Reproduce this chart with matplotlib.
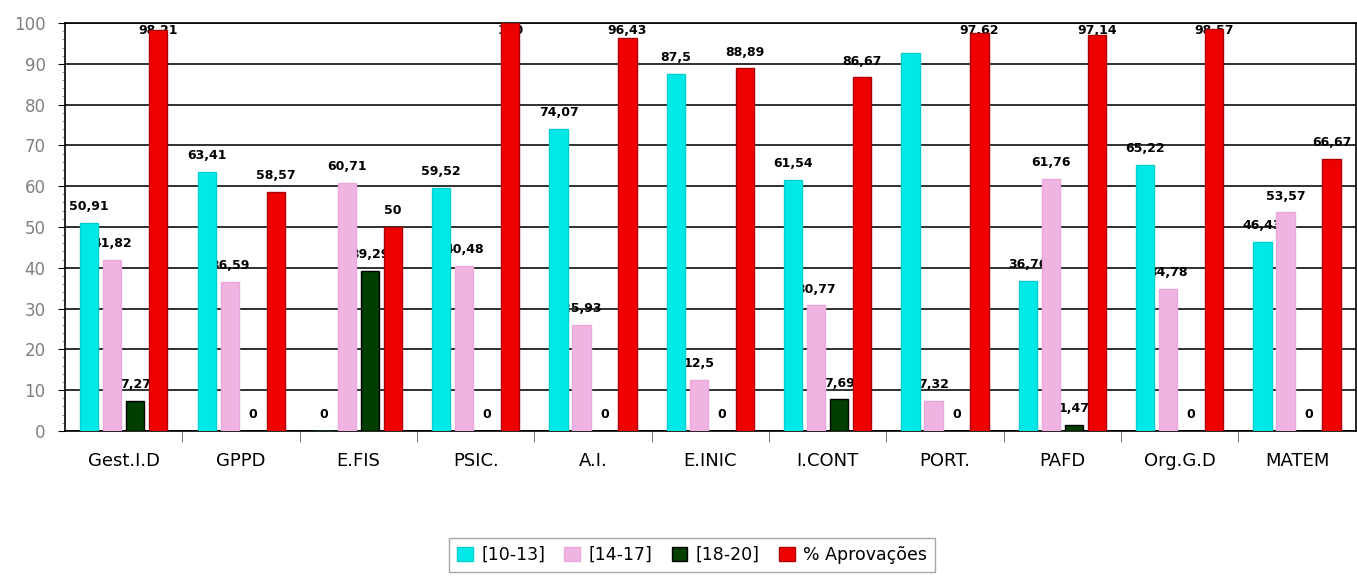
# Grouped bar chart: grade bands and pass rate per course unit
import numpy as np
import matplotlib.pyplot as plt

categories = ["Gest.I.D", "GPPD", "E.FIS", "PSIC.", "A.I.", "E.INIC",
              "I.CONT", "PORT.", "PAFD", "Org.G.D", "MATEM"]
band_10_13 = [50.91, 63.41, 0, 59.52, 74.07, 87.5, 61.54, 92.68, 36.76, 65.22, 46.43]
band_14_17 = [41.82, 36.59, 60.71, 40.48, 25.93, 12.5, 30.77, 7.32, 61.76, 34.78, 53.57]
band_18_20 = [7.27, 0, 39.29, 0, 0, 0, 7.69, 0, 1.47, 0, 0]
aprovacoes = [98.21, 58.57, 50, 100, 96.43, 88.89, 86.67, 97.62, 97.14, 98.57, 66.67]
series_names = ["[10-13]", "[14-17]", "[18-20]", "% Aprovações"]

# labels that the chart leaves out (PORT. [10-13])
hidden_labels = {(0, 7)}

colors = ["#00E8E8", "#F0B4E2", "#003F00", "#EE0000"]
edges = ["#00D0D0", "#E8A8DA", "#000000", "#B00000"]

fig = plt.figure(figsize=(13.57, 5.76), dpi=100)
ax = fig.add_axes([0.048, 0.252, 0.951, 0.708])

x = np.arange(len(categories))
step = 0.196
width = 0.155
series = [band_10_13, band_14_17, band_18_20, aprovacoes]

for i, vals in enumerate(series):
    pos = x + (i - 1.5) * step
    ax.bar(pos, vals, width=width, color=colors[i], edgecolor=edges[i],
           linewidth=1.0, zorder=3, label=series_names[i])
    for j, v in enumerate(vals):
        if (i, j) in hidden_labels:
            continue
        txt = f"{v:g}".replace(".", ",")
        ax.text(pos[j], min(v + 4, 98.2), txt, ha="center", va="center",
                fontsize=9, fontweight="bold", color="black", zorder=2)

ax.set_xlim(-0.5, len(categories) - 0.5)
ax.set_ylim(0, 100)
ax.set_yticks(np.arange(0, 101, 10))
ax.set_yticks(np.arange(0, 101, 2), minor=True)
ax.tick_params(axis="y", colors="#808080", labelsize=12, length=5, pad=9)
ax.tick_params(axis="y", which="minor", length=2, color="#808080")
ax.tick_params(axis="y", which="major", color="black")
ax.yaxis.grid(True, color="#202020", linewidth=1.3, zorder=0)

# category labels between boundary ticks
ax.set_xticks(x)
ax.set_xticklabels(categories, fontsize=13)
ax.tick_params(axis="x", length=0, pad=15, colors="black")
ax.set_xticks(np.arange(0.5, len(categories) - 0.5, 1), minor=True)
ax.tick_params(axis="x", which="minor", length=8, color="#606060")

for s in ax.spines.values():
    s.set_color("black")
    s.set_linewidth(1.2)

leg = fig.legend(loc="lower center", bbox_to_anchor=(0.51, -0.008), ncol=4,
                 fontsize=12.5, frameon=True, fancybox=False, handlelength=0.9,
                 handleheight=0.9, handletextpad=0.5, columnspacing=1.1,
                 borderpad=0.45)
leg.get_frame().set_edgecolor("#909090")
leg.get_frame().set_linewidth(1.0)

fig.savefig("out.png", dpi=100)
